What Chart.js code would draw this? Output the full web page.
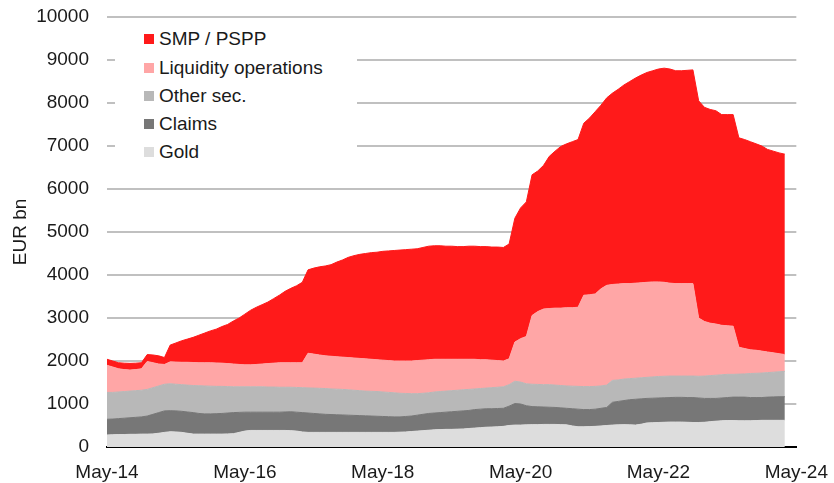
<!DOCTYPE html>
<html>
<head>
<meta charset="utf-8">
<script src="https://cdn.jsdelivr.net/npm/chart.js@4/dist/chart.umd.min.js"></script>
<style>
  html, body { margin: 0; padding: 0; background: #fff; }
  #wrap { position: relative; width: 834px; height: 483px; }
  #legendBg { position: absolute; left: 115px; top: 28px; width: 242px; height: 140px; background: #fff; }
  .item { position: absolute; left: 144px; height: 22px; line-height: 22px; white-space: nowrap;
          font-family: "Liberation Sans", Arial, sans-serif; font-size: 19px; color: #1a1a1a; }
  .item span { position: absolute; left: 0; top: 6px; width: 10px; height: 10px; }
  .item b { font-weight: normal; position: absolute; left: 15px; top: 0; }
</style>
</head>
<body>
<div id="wrap">
  <canvas id="balanceChart" width="834" height="483"></canvas>
  <div id="legendBg"></div>
  <div id="legend"></div>
</div>
<script>
// Meses (categorías) de May-14 a May-24
var monthNames = ['Jan', 'Feb', 'Mar', 'Apr', 'May', 'Jun', 'Jul', 'Aug', 'Sep', 'Oct', 'Nov', 'Dec'];
var categories = [];
for (var i = 0; i <= 120; i++) {
    categories.push(monthNames[(4 + i) % 12] + '-' + (14 + Math.floor((4 + i) / 12)));
}
var tickLabels = ['May-14', 'May-16', 'May-18', 'May-20', 'May-22', 'May-24'];

// Nivel superior de cada capa (EUR bn), mensual desde May-14
var goldTop = [
    280, 285, 290, 290, 295, 295, 300, 300, 305, 320,
    340, 355, 350, 340, 320, 300, 300, 300, 300, 300,
    300, 305, 310, 340, 370, 385, 385, 385, 385, 385,
    385, 385, 380, 370, 350, 340, 340, 340, 340, 340,
    340, 340, 340, 340, 340, 340, 340, 340, 340, 340,
    340, 345, 350, 360, 370, 380, 390, 400, 405, 410,
    410, 415, 420, 430, 440, 450, 460, 465, 470, 480,
    500, 510, 510, 515, 520, 520, 525, 525, 525, 520,
    515, 490, 470, 470, 475, 480, 490, 500, 510, 515,
    520, 515, 510, 530, 560, 565, 570, 575, 580, 580,
    580, 575, 570, 570, 575, 590, 600, 610, 615, 615,
    610, 610, 610, 615, 620, 620, 620, 620, 620
];
var claimsTop = [
    645, 650, 660, 670, 680, 690, 700, 720, 760, 800,
    840, 845, 840, 830, 815, 800, 780, 770, 770, 775,
    780, 790, 800, 805, 810, 810, 810, 810, 810, 810,
    810, 815, 820, 810, 800, 790, 780, 770, 760, 755,
    750, 745, 740, 735, 730, 725, 720, 715, 710, 705,
    700, 700, 710, 720, 740, 760, 780, 790, 800, 810,
    820, 830, 840, 850, 870, 880, 890, 890, 895, 900,
    950, 1010, 1000, 960, 940, 935, 930, 925, 920, 910,
    900, 890, 880, 870, 870, 880, 900, 920, 1040, 1060,
    1080, 1100, 1110, 1120, 1130, 1135, 1140, 1145, 1150, 1155,
    1155, 1150, 1150, 1140, 1130, 1130, 1130, 1140, 1150, 1160,
    1160, 1160, 1150, 1150, 1150, 1160, 1165, 1170, 1170
];
var otherSecTop = [
    1270, 1270, 1280, 1290, 1300, 1310, 1320, 1340, 1380, 1420,
    1460, 1470, 1460, 1450, 1440, 1430, 1425, 1420, 1415, 1410,
    1410, 1405, 1400, 1400, 1400, 1400, 1400, 1400, 1395, 1395,
    1390, 1390, 1390, 1385, 1380, 1375, 1370, 1365, 1360, 1350,
    1345, 1340, 1330, 1320, 1310, 1300, 1295, 1290, 1280, 1270,
    1260, 1250, 1245, 1240, 1240, 1250, 1260, 1280, 1290, 1300,
    1310, 1320, 1330, 1340, 1350, 1360, 1370, 1380, 1390, 1400,
    1450, 1530, 1510, 1470, 1460, 1455, 1450, 1450, 1440, 1430,
    1420, 1415, 1410, 1405, 1405, 1410, 1420, 1440, 1550, 1560,
    1580, 1590, 1600, 1610, 1620, 1630, 1640, 1645, 1650, 1650,
    1650, 1650, 1650, 1645, 1650, 1660, 1670, 1680, 1690, 1690,
    1695, 1700, 1710, 1715, 1720, 1730, 1740, 1750, 1760
];
var liquidityTop = [
    1900, 1860, 1820, 1800, 1790, 1800, 1820, 1990, 1960, 1930,
    1920, 1980, 1975, 1970, 1970, 1965, 1960, 1960, 1960, 1955,
    1950, 1940, 1930, 1920, 1910, 1910, 1920, 1930, 1940, 1950,
    1960, 1960, 1960, 1960, 1960, 2180, 2160, 2140, 2120, 2110,
    2100, 2090, 2080, 2070, 2060, 2050, 2040, 2030, 2020, 2010,
    2000, 2000, 2000, 2000, 2010, 2020, 2030, 2040, 2040, 2040,
    2040, 2040, 2040, 2040, 2040, 2030, 2030, 2020, 2010, 2000,
    2050, 2440, 2520, 2570, 3060, 3150, 3210, 3220, 3230, 3230,
    3240, 3240, 3250, 3530, 3540, 3560, 3680, 3760, 3780, 3790,
    3800, 3800, 3810, 3820, 3830, 3840, 3840, 3830, 3810, 3800,
    3800, 3800, 3800, 3000, 2920, 2880, 2860, 2830, 2820, 2810,
    2320, 2290, 2260, 2250, 2230, 2210, 2190, 2170, 2150
];
var smpTop = [
    2040, 2000, 1960, 1950, 1945, 1950, 1960, 2150, 2140, 2120,
    2080, 2370, 2420, 2470, 2510, 2550, 2600, 2650, 2700, 2740,
    2800, 2850, 2930, 3000, 3090, 3180, 3250, 3310, 3370, 3450,
    3530, 3620, 3690, 3750, 3830, 4120, 4160, 4190, 4210, 4240,
    4300, 4350, 4410, 4450, 4480, 4500, 4520, 4530, 4550, 4560,
    4570, 4580, 4590, 4600, 4610, 4640, 4670, 4680, 4680, 4670,
    4670, 4660, 4660, 4670, 4670, 4660, 4660, 4650, 4650, 4640,
    4720, 5320, 5560, 5700, 6330, 6420, 6550, 6760, 6880, 6990,
    7050, 7100, 7150, 7530, 7650, 7800, 7950, 8120, 8230, 8320,
    8420, 8500, 8580, 8650, 8710, 8750, 8790, 8810, 8790, 8750,
    8750, 8760, 8770, 8050, 7900, 7850, 7820, 7730, 7730, 7730,
    7190, 7150, 7100, 7050, 7000, 6920, 6880, 6840, 6810
];

var seriesNames = ['SMP / PSPP', 'Liquidity operations', 'Other sec.', 'Claims', 'Gold'];
var seriesColors = ['#ff1a1a', '#ffa6a6', '#b8b8b8', '#777777', '#dddddd'];

Chart.defaults.font.family = '"Liberation Sans", Arial, sans-serif';
Chart.defaults.font.size = 19;
Chart.defaults.color = '#1a1a1a';

function layer(label, data, color, fill) {
    return {
        label: label,
        data: data,
        backgroundColor: color,
        borderColor: color,
        borderWidth: 1,
        pointRadius: 0,
        tension: 0,
        fill: fill
    };
}

var ctx = document.getElementById('balanceChart').getContext('2d');
var chart = new Chart(ctx, {
    type: 'line',
    data: {
        labels: categories,
        datasets: [
            layer(seriesNames[4], goldTop, seriesColors[4], 'origin'),
            layer(seriesNames[3], claimsTop, seriesColors[3], '-1'),
            layer(seriesNames[2], otherSecTop, seriesColors[2], '-1'),
            layer(seriesNames[1], liquidityTop, seriesColors[1], '-1'),
            layer(seriesNames[0], smpTop, seriesColors[0], '-1')
        ]
    },
    options: {
        responsive: false,
        animation: false,
        layout: { padding: { top: 17, right: 34, left: 0, bottom: 0 } },
        plugins: { legend: { display: false }, tooltip: { enabled: false } },
        scales: {
            x: {
                offset: false,
                z: 1,
                grid: { display: false },
                border: { display: true, color: '#000', width: 2 },
                ticks: {
                    autoSkip: false,
                    maxRotation: 0,
                    padding: 6,
                    callback: function (v, i) {
                        var l = categories[i];
                        return tickLabels.indexOf(l) >= 0 ? l : '';
                    }
                },
                afterFit: function (s) { s.height = 36; }
            },
            y: {
                min: 0,
                max: 10000,
                ticks: {
                    stepSize: 1000,
                    padding: 18,
                    callback: function (v) { return String(v); }
                },
                grid: {
                    drawTicks: false,
                    lineWidth: 2,
                    color: function (c) { return c.tick.value === 0 ? '#000' : '#c0c0c0'; }
                },
                border: { display: false },
                title: { display: true, text: 'EUR bn', padding: { top: 9, bottom: 0 } },
                afterFit: function (s) {
                    s.width = 107;
                    s.paddingTop = 0;
                    s.paddingBottom = 0;
                }
            }
        }
    }
});

// Leyenda dentro del área del gráfico
var centers = [39, 68, 96, 124, 152];
var legend = document.getElementById('legend');
seriesNames.forEach(function (name, k) {
    var d = document.createElement('div');
    d.className = 'item';
    d.style.top = (centers[k] - 11) + 'px';
    d.innerHTML = '<span style="background:' + seriesColors[k] + '"></span><b>' + name + '</b>';
    legend.appendChild(d);
});
</script>
</body>
</html>
